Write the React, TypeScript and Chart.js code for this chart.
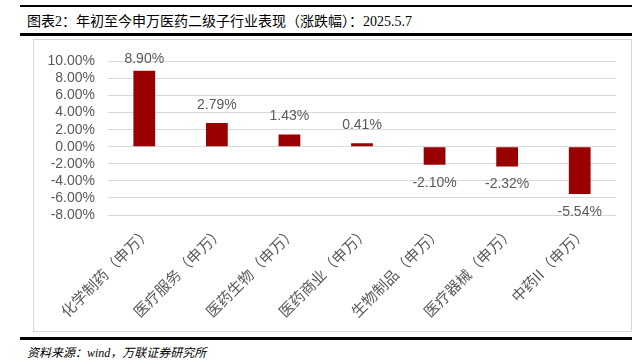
import React, { useEffect, useRef } from "react";
import { Chart, registerables } from "chart.js";

Chart.register(...registerables);

const categories = [
  "化学制药（申万）",
  "医疗服务（申万）",
  "医药生物（申万）",
  "医药商业（申万）",
  "生物制品（申万）",
  "医疗器械（申万）",
  "中药II（申万）",
];
const values = [8.9, 2.79, 1.43, 0.41, -2.1, -2.32, -5.54];
const yMin = -8;
const yMax = 10;
const yStep = 2;

const titleText = "图表2：年初至今申万医药二级子行业表现（涨跌幅）：2025.5.7";
const sourceText = "资料来源：wind，万联证券研究所";

const labelColor = "#595959";
const barColor = "#990000";

const valueLabels = {
  id: "valueLabels",
  afterDatasetsDraw(chart: any) {
    const ctx = chart.ctx;
    const meta = chart.getDatasetMeta(0);
    const area = chart.chartArea;
    ctx.save();
    ctx.font = "14px 'Liberation Sans', Arial, sans-serif";
    ctx.fillStyle = labelColor;
    ctx.textAlign = "center";
    ctx.textBaseline = "middle";
    meta.data.forEach((el: any, i: number) => {
      const v = values[i];
      const txt = v.toFixed(2) + "%";
      let y;
      if (v >= 0) {
        y = Math.max(el.y - 18, area.top - 2);
      } else {
        y = el.y + 18;
      }
      ctx.fillText(txt, el.x, y);
    });
    ctx.restore();
  },
};

export default function App() {
  const ref = useRef<HTMLCanvasElement>(null);
  useEffect(() => {
    if (!ref.current) return;
    const chart = new Chart(ref.current, {
      type: "bar",
      data: {
        labels: categories,
        datasets: [
          {
            data: values,
            backgroundColor: barColor,
            barPercentage: 0.3,
            categoryPercentage: 1,
          },
        ],
      },
      options: {
        animation: false,
        responsive: false,
        maintainAspectRatio: false,
        layout: { padding: { top: 9, right: 16, left: 0, bottom: 0 } },
        plugins: { legend: { display: false }, tooltip: { enabled: false } },
        scales: {
          x: {
            grid: { display: false },
            border: { display: false },
            ticks: {
              color: labelColor,
              font: { family: "'Noto Sans CJK SC', sans-serif", size: 15 },
              maxRotation: 45,
              minRotation: 45,
              autoSkip: false,
              padding: 0,
              labelOffset: 4,
            },
            afterFit(scale: any) {
              scale.height = 117;
            },
          },
          y: {
            min: yMin,
            max: yMax,
            grid: { color: "#d9d9d9", drawTicks: false },
            border: { display: false },
            ticks: {
              stepSize: yStep,
              autoSkip: false,
              color: labelColor,
              font: { family: "'Liberation Sans', Arial, sans-serif", size: 14 },
              padding: 13,
              callback: (v: any) => Number(v).toFixed(2) + "%",
            },
            afterFit(scale: any) {
              scale.width = 74;
            },
          },
        },
      },
      plugins: [valueLabels],
    });
    return () => chart.destroy();
  }, []);

  return (
    <div
      style={{
        position: "fixed",
        left: 0,
        top: 0,
        width: 640,
        height: 363,
        background: "#fff",
        overflow: "hidden",
      }}
    >
      <div style={{ position: "absolute", left: 20, top: 5, width: 612, height: 2, background: "#000" }} />
      <div
        style={{
          position: "absolute",
          left: 27,
          top: 12,
          fontFamily: "'Liberation Serif', 'Noto Sans CJK SC', serif",
          fontSize: 14,
          lineHeight: "20px",
          color: "#000",
          whiteSpace: "nowrap",
        }}
      >
        {titleText}
      </div>
      <div style={{ position: "absolute", left: 20, top: 33, width: 612, height: 2.5, background: "#000" }} />
      <div
        style={{
          position: "absolute",
          left: 33,
          top: 39,
          width: 599,
          height: 293,
          border: "1px solid #d9d9d9",
          boxSizing: "border-box",
        }}
      />
      <canvas
        ref={ref}
        width={598}
        height={292}
        style={{ position: "absolute", left: 34, top: 40, width: 598, height: 292 }}
      />
      <div style={{ position: "absolute", left: 20, top: 337, width: 612, height: 3, background: "#000" }} />
      <div
        style={{
          position: "absolute",
          left: 27,
          top: 345,
          fontFamily: "'Liberation Serif', 'Noto Sans CJK SC', serif",
          fontStyle: "italic",
          fontSize: 12,
          lineHeight: "16px",
          color: "#000",
          whiteSpace: "nowrap",
        }}
      >
        {sourceText}
      </div>
    </div>
  );
}
